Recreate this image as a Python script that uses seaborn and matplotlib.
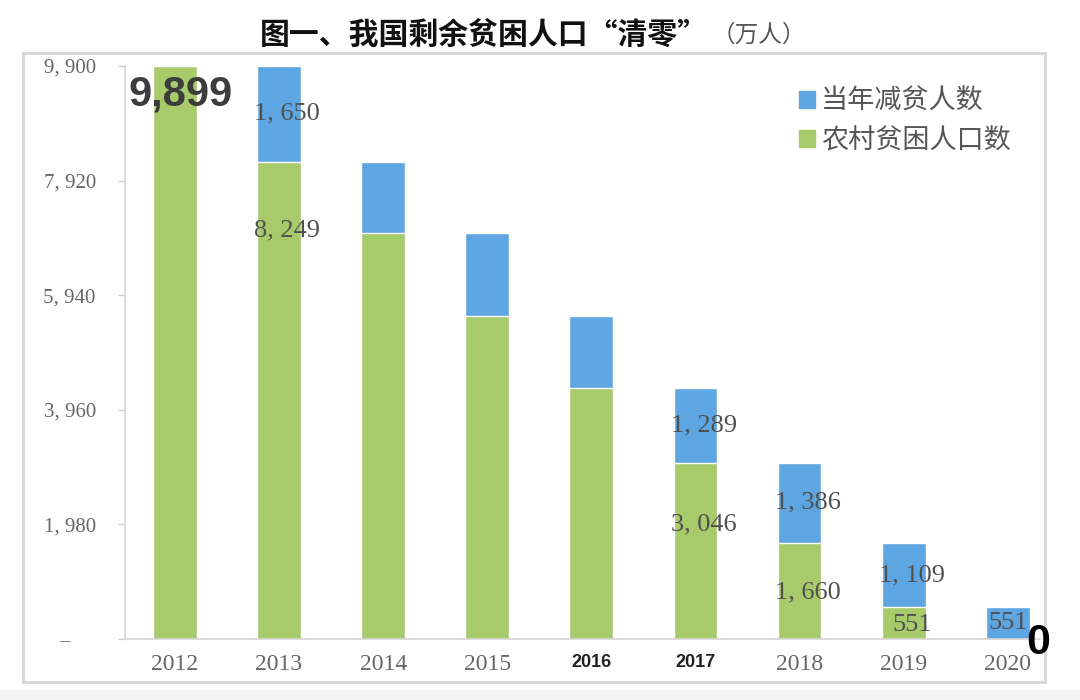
import matplotlib
matplotlib.use("Agg")
import matplotlib.pyplot as plt
import matplotlib.patches as mpatches
import seaborn as sns
import pandas as pd

years = ["2012", "2013", "2014", "2015", "2016", "2017", "2018", "2019", "2020"]
rural_poor = [9899, 8249, 7017, 5575, 4335, 3046, 1660, 551, 0]
reduced = [0, 1650, 1232, 1442, 1240, 1289, 1386, 1109, 551]
y_ticks = [0, 1980, 3960, 5940, 7920, 9900]

# which segments carry a value label
blue_labelled = ["2013", "2017", "2018", "2019", "2020"]
green_labelled = ["2013", "2017", "2018", "2019"]
# green labels sit at this fraction of the green segment
green_label_frac = {"2013": 0.856, "2017": 0.65, "2018": 0.48, "2019": 0.44}
bold_years = ["2016", "2017"]

BLUE = "#5ea6e2"
GREEN = "#a7ca6b"
SERIF = ["Liberation Serif", "DejaVu Serif"]
CJK = ["Noto Sans CJK SC", "DejaVu Sans"]
SANS = ["Liberation Sans", "DejaVu Sans"]


def fmt(v):
    return f"{v:,}".replace(",", ", ")


df = pd.DataFrame({"year": years, "rural": rural_poor, "reduced": reduced})
df["total"] = df["rural"] + df["reduced"]

sns.set_style("white")
plt.rcParams["font.family"] = CJK

fig = plt.figure(figsize=(10.8, 7), dpi=100)
ax = fig.add_axes([0.1157, 0.0871, 0.8473, 0.8186])

sns.barplot(data=df, x="year", y="total", color=BLUE, width=0.42,
            saturation=1, ax=ax)
sns.barplot(data=df, x="year", y="rural", color=GREEN, width=0.42,
            saturation=1, ax=ax)

ax.set_xlim(-0.48, 8.31)
ax.set_ylim(0, 9900)
ax.set_xlabel("")
ax.set_ylabel("")

ax.set_yticks(y_ticks)
ax.set_yticklabels(["–     "] + [fmt(v) for v in y_ticks[1:]],
                   family=SERIF, fontsize=15, color="#666666")
ax.tick_params(axis="y", length=5, width=1, color="#cccccc", pad=16, left=True)
ax.tick_params(axis="x", length=0, pad=11)

for lab in ax.get_xticklabels():
    if lab.get_text() in bold_years:
        lab.set_fontfamily(SANS)
        lab.set_fontweight("bold")
        lab.set_fontsize(13)
        lab.set_color("#222222")
    else:
        lab.set_fontfamily(SERIF)
        lab.set_fontsize(17)
        lab.set_color("#666666")

for side in ["top", "right"]:
    ax.spines[side].set_visible(False)
for side in ["left", "bottom"]:
    ax.spines[side].set_color("#d4d4d4")
    ax.spines[side].set_linewidth(1.2)

# value labels
for i, yr in enumerate(years):
    dx = 0.0 if i == len(years) - 1 else 0.08
    if yr in blue_labelled:
        yc = rural_poor[i] + reduced[i] / 2
        ax.text(i + dx, yc, fmt(reduced[i]), ha="center", va="center",
                family=SERIF, fontsize=19, color="#505050")
    if yr in green_labelled:
        yc = rural_poor[i] * green_label_frac[yr]
        ax.text(i + dx, yc, fmt(rural_poor[i]), ha="center", va="center",
                family=SERIF, fontsize=19, color="#505050")

ax.text(0.05, rural_poor[0] * 0.95, f"{rural_poor[0]:,}", ha="center", va="center",
        family=SANS, fontweight="bold", fontsize=30, color="#3c3c3c")
fig.text(1038 / 1080, 1 - 643 / 700, f"{rural_poor[-1]}", ha="center", va="center",
         family=SANS, fontweight="bold", fontsize=31, color="#000000", zorder=10)

handles = [mpatches.Patch(color=BLUE, label="当年减贫人数"),
           mpatches.Patch(color=GREEN, label="农村贫困人口数")]
ax.legend(handles=handles, loc="upper left", bbox_to_anchor=(0.722, 0.985),
          frameon=False, handlelength=0.6, handleheight=0.6,
          handletextpad=0.2, labelspacing=0.45, borderpad=0,
          prop={"family": CJK, "size": 19.5, "weight": "light"},
          labelcolor="#555555")

# title
fig.text(708 / 1080, 0.949, "图一、我国剩余贫困人口“清零”", ha="right", va="center",
         family=CJK, fontweight="bold", fontsize=21.5, color="#111111")
fig.text(712 / 1080, 0.949, "（万人）", ha="left", va="center",
         family=CJK, fontweight="light", fontsize=17, color="#555555")

# outer chart frame
fig.patches.append(mpatches.Rectangle((23 / 1080, 1 - 682 / 700), 1022 / 1080, 629 / 700,
                                      transform=fig.transFigure, fill=False,
                                      edgecolor="#d6d6d6", linewidth=2))
fig.patches.append(mpatches.Rectangle((0, 0), 1, 10 / 700, transform=fig.transFigure,
                                      facecolor="#f3f3f3", edgecolor="none"))

fig.savefig("out.png", dpi=100)
